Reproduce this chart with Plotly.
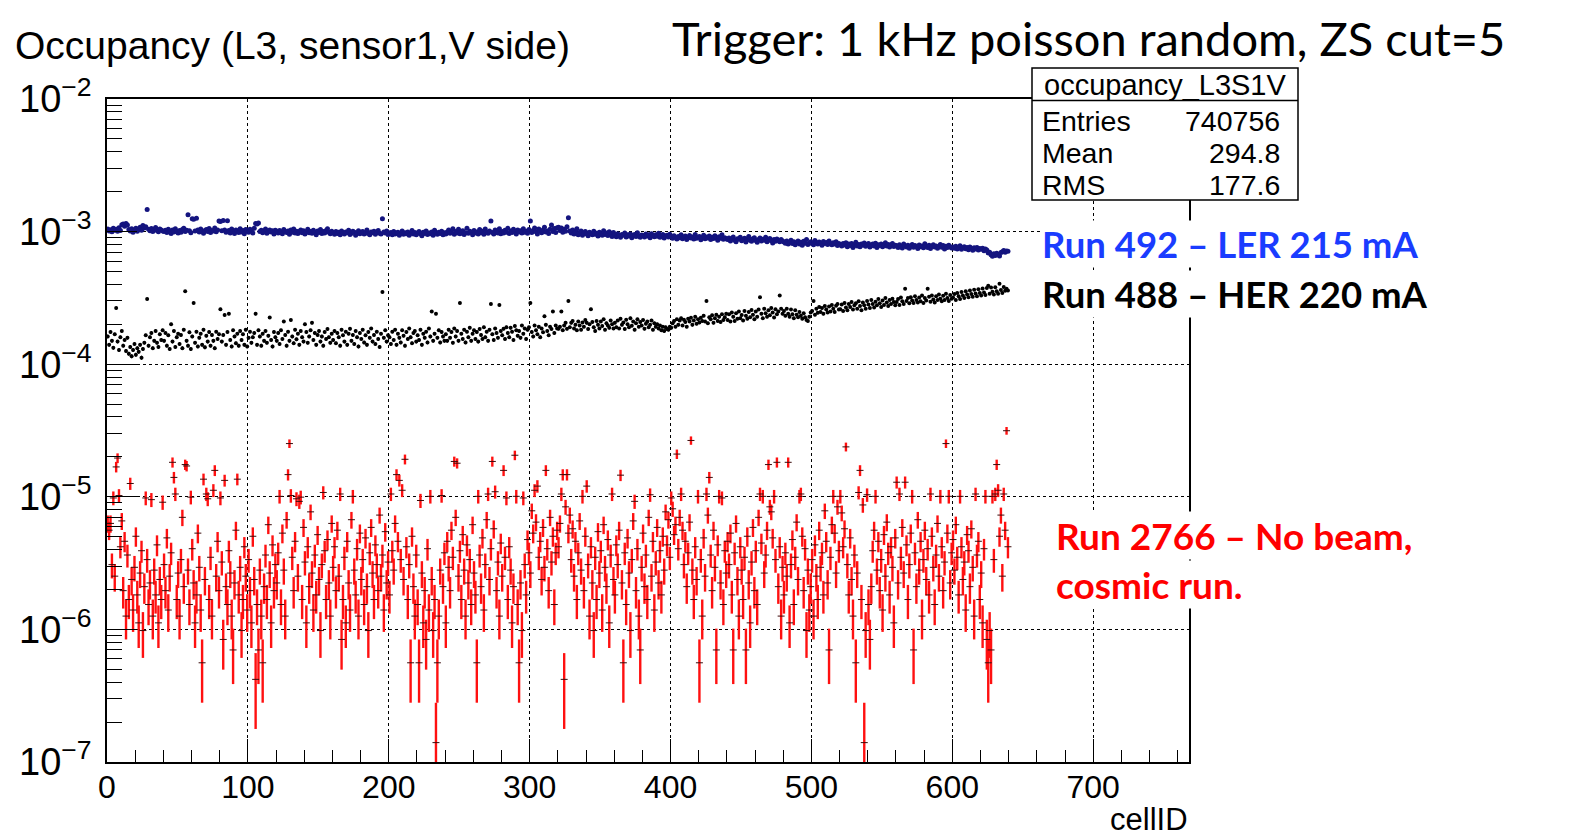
import numpy as np
import plotly.graph_objects as go

# ---------------------------------------------------------------
# occupancy per cellID (units of 1e-6), 640 cells
# ---------------------------------------------------------------
# Run 492 - LER 215 mA
ler_occ = [
    1045, 1010, 1032, 998, 1060, 1025, 1040, 1005, 1070, 1018, 1125, 1140, 1098, 1150, 1120, 1035, 1012, 1050, 990, 1028,
    1062, 1008, 1045, 1080, 1022, 1110, 1065, 1090, 1470, 1040, 1015, 1055, 1000, 1038, 1072, 1020, 996, 1048, 1030, 1010,
    1002, 1025, 985, 1040, 1012, 968, 1030, 995, 1050, 1008, 975, 1020, 990, 1035, 1060, 1000, 1022, 1340, 1015, 980,
    1250, 1240, 1010, 1260, 1030, 992, 1045, 1005, 972, 1018, 1038, 1000, 1055, 985, 1020, 1010, 1065, 998, 1028, 1200,
    1190, 1015, 1210, 1030, 990, 1205, 1020, 975, 1045, 1002, 968, 1028, 1010, 985, 1050, 995, 1020, 962, 1035, 1008,
    990, 1040, 1012, 975, 1060, 1150, 1140, 1160, 1000, 1025, 982, 1010, 1048, 970, 1000, 1030, 992, 1015, 958, 1022,
    1005, 978, 1020, 990, 962, 1035, 1000, 985, 1012, 955, 1028, 990, 1045, 975, 1008, 968, 1000, 1030, 982, 1015,
    960, 995, 1040, 980, 1002, 972, 1025, 990, 948, 1010, 985, 1035, 968, 1000, 978, 1018, 1050, 990, 962, 1005,
    980, 955, 1000, 968, 990, 945, 1012, 975, 960, 995, 982, 1025, 950, 970, 1005, 988, 940, 978, 1015, 962,
    990, 1000, 958, 975, 1030, 968, 945, 992, 980, 1008, 955, 985, 1020, 970, 960, 1250, 995, 975, 1010, 950,
    970, 985, 948, 1002, 960, 975, 990, 940, 968, 1010, 955, 980, 962, 995, 938, 970, 1018, 958, 985, 945,
    975, 1000, 960, 930, 988, 968, 1012, 950, 978, 962, 995, 940, 1025, 975, 955, 990, 968, 1005, 948, 980,
    960, 995, 1030, 970, 985, 1050, 955, 1000, 978, 1040, 965, 990, 1015, 950, 982, 1060, 970, 1005, 988, 945,
    1020, 975, 995, 960, 1035, 980, 1008, 955, 1045, 990, 970, 1012, 1200, 985, 960, 1030, 998, 975, 1050, 965,
    1000, 975, 1025, 990, 1060, 968, 1010, 985, 1040, 1002, 958, 1030, 995, 1015, 975, 1050, 990, 1008, 970, 1035,
    1200, 985, 1020, 1065, 998, 960, 1045, 1010, 980, 1030, 1080, 995, 1012, 968, 1040, 1120, 1000, 1055, 985, 1070,
    1080, 1020, 1065, 990, 1040, 1005, 1090, 1270, 1010, 975, 1030, 960, 995, 1050, 948, 985, 1012, 940, 975, 1000,
    958, 930, 990, 965, 945, 1008, 955, 972, 925, 990, 960, 940, 1015, 950, 975, 935, 998, 962, 920, 985,
    940, 915, 965, 930, 905, 952, 938, 975, 910, 945, 925, 960, 898, 935, 950, 918, 980, 928, 905, 942,
    935, 912, 958, 925, 945, 900, 962, 930, 915, 948, 922, 970, 908, 935, 950, 895, 928, 940, 912, 955,
    915, 890, 930, 905, 880, 920, 898, 945, 885, 910, 925, 872, 900, 935, 895, 912, 878, 950, 890, 905,
    920, 868, 898, 940, 882, 910, 895, 925, 870, 905, 888, 930, 900, 862, 915, 892, 945, 875, 900, 885,
    870, 895, 850, 880, 910, 862, 840, 885, 875, 905, 852, 868, 890, 835, 878, 920, 860, 845, 882, 900,
    858, 830, 870, 895, 848, 875, 862, 905, 840, 865, 888, 852, 820, 870, 845, 880, 858, 838, 872, 850,
    835, 818, 850, 805, 828, 862, 812, 840, 795, 825, 848, 808, 830, 790, 845, 818, 870, 800, 822, 838,
    812, 795, 858, 826, 805, 835, 818, 790, 842, 812, 828, 800, 850, 815, 795, 825, 808, 838, 785, 815,
    800, 778, 815, 792, 825, 770, 805, 785, 812, 760, 795, 830, 780, 800, 768, 808, 790, 822, 775, 798,
    812, 765, 790, 805, 780, 818, 760, 795, 785, 808, 770, 790, 825, 778, 800, 765, 795, 812, 772, 788,
    782, 760, 795, 770, 752, 805, 778, 765, 790, 748, 775, 800, 762, 785, 770, 745, 792, 768, 780, 755,
    810, 772, 760, 788, 745, 775, 795, 765, 780, 750, 770, 798, 762, 785, 740, 775, 760, 790, 768, 752,
    765, 748, 775, 740, 760, 782, 735, 755, 770, 742, 758, 730, 765, 748, 722, 755, 740, 760, 728, 745,
    735, 750, 718, 740, 725, 690, 700, 668, 652, 680, 660, 688, 672, 655, 695, 705, 720, 700, 715, 710,
]

# Run 488 - HER 220 mA
her_occ = [
    162, 140, 175, 150, 133, 168, 265, 148, 128, 160, 178, 138, 152, 126, 158, 120, 135, 115, 128, 142,
    118, 132, 124, 140, 112, 130, 145, 165, 310, 138, 160, 172, 132, 150, 178, 145, 135, 168, 152, 180,
    150, 172, 138, 165, 130, 200, 148, 178, 135, 160, 170, 142, 166, 132, 182, 355, 150, 138, 174, 130,
    162, 290, 145, 176, 136, 158, 170, 140, 182, 134, 164, 148, 175, 138, 166, 150, 132, 176, 155, 168,
    260, 148, 166, 235, 140, 175, 240, 152, 136, 180, 162, 144, 170, 138, 178, 152, 168, 140, 182, 136,
    158, 176, 145, 160, 172, 240, 140, 180, 162, 138, 170, 150, 178, 145, 164, 225, 152, 136, 175, 160,
    150, 172, 142, 180, 155, 210, 166, 138, 176, 150, 215, 162, 144, 182, 154, 170, 140, 178, 160, 148,
    200, 175, 145, 162, 180, 205, 152, 172, 140, 166, 178, 148, 162, 138, 175, 155, 184, 160, 145, 170,
    152, 178, 144, 172, 160, 138, 182, 165, 148, 176, 140, 170, 185, 150, 166, 142, 178, 160, 136, 172,
    155, 182, 146, 165, 140, 175, 158, 186, 148, 166, 142, 176, 155, 135, 170, 350, 158, 180, 148, 165,
    160, 142, 176, 152, 182, 140, 170, 158, 146, 180, 164, 138, 175, 155, 186, 160, 144, 172, 178, 148,
    165, 152, 182, 140, 170, 158, 176, 146, 186, 162, 250, 150, 170, 240, 158, 180, 146, 175, 162, 150,
    168, 150, 182, 158, 175, 145, 186, 162, 178, 150, 290, 170, 155, 182, 146, 176, 160, 188, 150, 170,
    180, 155, 175, 148, 184, 166, 155, 190, 160, 176, 150, 182, 285, 168, 152, 186, 172, 158, 280, 178,
    165, 185, 155, 190, 172, 160, 188, 176, 152, 194, 180, 164, 178, 158, 196, 170, 186, 155, 182, 190,
    290, 175, 162, 196, 180, 168, 192, 160, 186, 174, 230, 198, 178, 165, 192, 184, 250, 172, 196, 186,
    185, 192, 250, 180, 196, 205, 185, 300, 190, 205, 212, 186, 198, 180, 210, 196, 182, 206, 192, 215,
    205, 184, 200, 260, 208, 190, 178, 212, 198, 186, 210, 194, 218, 182, 204, 196, 188, 214, 200, 186,
    205, 190, 214, 186, 220, 198, 206, 184, 216, 200, 190, 222, 195, 210, 182, 204, 218, 192, 208, 196,
    215, 185, 202, 210, 190, 198, 214, 182, 204, 192, 200, 186, 196, 180, 192, 178, 190, 184, 182, 192,
    188, 204, 212, 192, 218, 198, 214, 222, 196, 216, 208, 192, 220, 210, 224, 198, 214, 228, 202, 218,
    206, 224, 212, 232, 210, 300, 204, 226, 218, 234, 205, 222, 236, 212, 228, 208, 238, 215, 226, 240,
    215, 238, 210, 245, 228, 212, 242, 220, 250, 222, 235, 214, 252, 232, 220, 248, 226, 256, 236, 218,
    250, 228, 258, 320, 240, 222, 262, 242, 228, 255, 234, 265, 245, 225, 260, 238, 250, 330, 262, 240,
    252, 232, 262, 240, 228, 258, 238, 222, 255, 236, 226, 248, 232, 220, 242, 226, 215, 212, 228, 245,
    252, 300, 236, 262, 244, 270, 248, 265, 240, 275, 258, 245, 272, 250, 280, 262, 248, 276, 285, 258,
    260, 282, 252, 290, 268, 255, 285, 270, 295, 258, 278, 288, 262, 298, 275, 255, 292, 278, 262, 300,
    282, 265, 305, 285, 268, 296, 278, 310, 288, 270, 302, 280, 315, 292, 275, 305, 285, 312, 295, 278,
    295, 310, 280, 318, 298, 285, 370, 300, 315, 288, 320, 302, 290, 325, 305, 292, 318, 298, 330, 290,
    315, 302, 370, 322, 296, 330, 308, 292, 325, 305, 335, 312, 298, 328, 305, 340, 315, 300, 332, 312,
    318, 338, 305, 345, 325, 310, 350, 330, 315, 355, 335, 320, 360, 338, 322, 365, 342, 325, 368, 345,
    330, 372, 348, 332, 375, 390, 340, 378, 352, 335, 380, 355, 340, 405, 362, 345, 382, 358, 370, 360,
]

# Run 2766 - no beam, cosmic run: hit counts per cell
cosmic_hits = [
    45, 40, 45, 22, 70, 18, 120, 140, 73, 30, 47, 14, 33, 9, 26, 12, 90, 17, 10, 21,
    36, 13, 8, 19, 28, 7, 15, 70, 24, 11, 16, 68, 9, 20, 13, 31, 8, 17, 12, 65,
    22, 14, 35, 10, 18, 27, 130, 100, 75, 12, 19, 9, 24, 50, 15, 125, 122, 20, 11, 71,
    29, 16, 8, 13, 38, 21, 10, 4, 97, 17, 75, 69, 12, 25, 9, 80, 113, 18, 33, 14,
    70, 23, 6, 95, 15, 11, 28, 19, 9, 5, 16, 40, 97, 13, 21, 7, 12, 30, 18, 10,
    24, 14, 8, 36, 17, 3, 11, 5, 20, 9, 4, 15, 26, 12, 44, 19, 8, 31, 14, 22,
    16, 27, 72, 11, 38, 20, 9, 48, 105, 180, 73, 25, 14, 33, 69, 18, 66, 71, 12, 42,
    23, 8, 30, 15, 55, 19, 10, 26, 13, 37, 17, 7, 22, 77, 28, 12, 34, 16, 9, 45,
    21, 30, 14, 40, 18, 75, 6, 12, 25, 8, 33, 16, 10, 48, 72, 20, 13, 29, 9, 38,
    17, 24, 11, 35, 15, 7, 27, 42, 19, 12, 31, 22, 14, 52, 18, 26, 10, 39, 16, 23,
    13, 75, 28, 20, 45, 105, 33, 95, 24, 80, 17, 137, 30, 12, 22, 4, 36, 15, 9, 26,
    11, 4, 67, 19, 8, 14, 6, 29, 10, 72, 17, 7, 12, 1, 4, 9, 20, 73, 15, 27,
    8, 33, 21, 14, 40, 25, 132, 50, 128, 18, 28, 12, 37, 20, 9, 31, 16, 24, 11, 44,
    19, 13, 4, 72, 26, 15, 35, 10, 22, 48, 75, 17, 29, 132, 41, 78, 14, 23, 9, 32,
    18, 113, 25, 70, 12, 30, 20, 8, 15, 147, 72, 11, 4, 16, 7, 70, 22, 13, 34, 27,
    19, 56, 38, 80, 46, 86, 25, 33, 17, 42, 21, 113, 29, 14, 50, 23, 36, 11, 27, 40,
    30, 45, 75, 105, 3, 60, 105, 38, 52, 24, 41, 18, 33, 12, 27, 47, 20, 72, 14, 36,
    86, 22, 9, 30, 16, 7, 25, 12, 39, 19, 28, 10, 44, 21, 15, 34, 8, 26, 75, 17,
    13, 31, 22, 40, 104, 16, 4, 27, 11, 35, 19, 7, 24, 47, 66, 14, 29, 9, 5, 21,
    38, 15, 26, 12, 50, 74, 18, 33, 10, 23, 42, 16, 28, 13, 36, 20, 55, 31, 48, 25,
    70, 58, 37, 44, 150, 29, 50, 75, 40, 22, 33, 15, 27, 46, 190, 20, 12, 30, 17, 72,
    4, 24, 9, 35, 18, 75, 52, 100, 26, 14, 40, 21, 5, 31, 72, 16, 70, 11, 28, 19,
    33, 22, 38, 13, 5, 27, 45, 17, 9, 30, 20, 12, 25, 5, 36, 16, 8, 23, 42, 14,
    28, 11, 50, 75, 32, 72, 19, 26, 40, 125, 60, 55, 35, 72, 24, 130, 15, 30, 9, 21,
    13, 27, 18, 130, 8, 22, 34, 11, 25, 46, 17, 72, 75, 36, 14, 29, 7, 20, 10, 15,
    24, 9, 31, 18, 12, 40, 21, 27, 13, 56, 33, 16, 5, 25, 44, 72, 38, 19, 60, 28,
    72, 54, 30, 41, 170, 22, 13, 35, 17, 9, 26, 4, 19, 77, 113, 12, 62, 1, 7, 74,
    11, 6, 15, 28, 40, 72, 20, 33, 14, 24, 10, 37, 18, 46, 27, 13, 30, 21, 8, 35,
    92, 16, 75, 25, 42, 19, 92, 31, 12, 22, 38, 72, 5, 27, 15, 48, 20, 33, 9, 24,
    40, 17, 29, 13, 75, 36, 21, 11, 26, 45, 18, 72, 30, 14, 23, 180, 38, 72, 16, 27,
    34, 20, 44, 25, 13, 72, 30, 17, 23, 10, 37, 28, 15, 41, 21, 9, 75, 26, 33, 12,
    19, 8, 29, 72, 6, 4, 7, 5, 72, 24, 75, 125, 80, 36, 52, 18, 75, 40, 225, 30,
]

hit_unit = 1.4e-7  # occupancy of a single hit
n_cells = len(ler_occ)
cell_id = np.arange(n_cells) + 0.5

ler = np.array(ler_occ) * 1e-6
her = np.array(her_occ) * 1e-6
cosmic = np.array(cosmic_hits) * hit_unit
ler_err = np.sqrt(ler * hit_unit)
her_err = np.sqrt(her * hit_unit)
cosmic_err = np.sqrt(np.array(cosmic_hits)) * hit_unit

# page offset (body margin) and plot frame, in window pixels
OFF = 8
W, H = 1571 - OFF, 840 - OFF
L, R, T, B = 107, 1189, 99, 762


def px(x):
    return (x - L) / (R - L)


def py(y):
    return (B - y) / (B - T)


fig = go.Figure()

fig.add_trace(go.Scatter(
    x=cell_id, y=cosmic, mode='markers',
    marker=dict(symbol='line-ew', size=5, color='#400000', line=dict(color='#3a0a0a', width=1)),
    error_y=dict(type='data', array=cosmic_err, color='#ff1010', thickness=2.4, width=0),
    showlegend=False
))
fig.add_trace(go.Scatter(
    x=cell_id, y=her, mode='markers',
    marker=dict(symbol='circle', size=4, color='black'),
    error_y=dict(type='data', array=her_err, color='black', thickness=1.2, width=0),
    showlegend=False
))
fig.add_trace(go.Scatter(
    x=cell_id, y=ler, mode='markers',
    marker=dict(symbol='circle', size=5, color='#14147f'),
    error_y=dict(type='data', array=ler_err, color='#14147f', thickness=1.2, width=0),
    showlegend=False
))

decades = [-7, -6, -5, -4, -3, -2]
minor_y = [k * 10.0 ** e for e in decades[:-1] for k in range(2, 10)]

fig.update_xaxes(
    range=[0, 768], tick0=0, dtick=100,
    ticks='inside', ticklen=23, tickwidth=1.2, tickcolor='black',
    showline=True, mirror=True, linecolor='black', linewidth=1.5,
    showgrid=True, gridcolor='black', griddash='dot', gridwidth=1,
    zeroline=False, ticklabelstandoff=-4,
    minor=dict(dtick=20, ticks='inside', ticklen=12, tickwidth=1, tickcolor='black', showgrid=False),
    tickfont=dict(family='Liberation Sans', size=32, color='black'),
)
fig.update_yaxes(
    type='log', range=[-7, -2],
    tickmode='array', tickvals=[10.0 ** e for e in decades],
    ticktext=['10<sup>\u2212%d</sup>' % (-e) for e in decades],
    ticks='inside', ticklen=30, tickwidth=1.2, tickcolor='black',
    showline=True, mirror=True, linecolor='black', linewidth=1.5,
    showgrid=True, gridcolor='black', griddash='dot', gridwidth=1,
    zeroline=False, ticklabelstandoff=6,
    minor=dict(tickmode='array', tickvals=minor_y, ticks='inside', ticklen=15, tickwidth=1,
               tickcolor='black', showgrid=False),
    tickfont=dict(family='Liberation Sans', size=38, color='black'),
)

root_font = 'Liberation Sans'
annotations = [
    dict(x=px(13), y=py(45), text='Occupancy (L3, sensor1,V side)', xanchor='left', yanchor='middle',
         font=dict(family=root_font, size=39, color='black')),
    dict(x=px(670), y=py(38), text='Trigger: 1 kHz poisson random, ZS cut=5', xanchor='left', yanchor='middle',
         font=dict(family='Lato', size=47, color='black')),
    dict(x=px(1040), y=py(244), text='<b>Run 492 \u2013 LER 215 mA</b>', xanchor='left', yanchor='middle',
         font=dict(family='Lato', size=36.5, color='#1a3cff'), bgcolor='white'),
    dict(x=px(1040), y=py(294), text='<b>Run 488 \u2013 HER 220 mA</b>', xanchor='left', yanchor='middle',
         font=dict(family='Lato', size=36.5, color='black'), bgcolor='white'),
    dict(x=px(1054), y=py(535), text='<b>Run 2766 \u2013 No beam,</b>', xanchor='left', yanchor='middle',
         font=dict(family='Lato', size=37, color='#ff0000'), bgcolor='white'),
    dict(x=px(1054), y=py(584), text='<b>cosmic run.</b>', xanchor='left', yanchor='middle',
         font=dict(family='Lato', size=37, color='#ff0000'), bgcolor='white'),
    dict(x=px(1190), y=py(819), text='cellID', xanchor='right', yanchor='middle',
         font=dict(family=root_font, size=31, color='black')),
    # stats box
    dict(x=px(1165), y=py(85), text='occupancy_L3S1V', xanchor='center', yanchor='middle',
         font=dict(family=root_font, size=29, color='black')),
]
stats = [('Entries', '740756', 121), ('Mean', '294.8', 153), ('RMS', '177.6', 185)]
for name, val, yy in stats:
    annotations.append(dict(x=px(1040), y=py(yy), text=name, xanchor='left', yanchor='middle',
                            font=dict(family=root_font, size=28.5, color='black')))
    annotations.append(dict(x=px(1282), y=py(yy), text=val, xanchor='right', yanchor='middle',
                            font=dict(family=root_font, size=28.5, color='black')))
for a in annotations:
    a.update(xref='paper', yref='paper', showarrow=False)

shapes = [
    dict(type='rect', xref='paper', yref='paper', x0=px(1032), x1=px(1298), y0=py(200), y1=py(68),
         fillcolor='white', line=dict(color='black', width=1.5), layer='above'),
    dict(type='line', xref='paper', yref='paper', x0=px(1032), x1=px(1298), y0=py(100.5), y1=py(100.5),
         line=dict(color='black', width=1.5), layer='above'),
]

fig.update_layout(
    width=W, height=H,
    margin=dict(l=L - OFF, r=1571 - R, t=T - OFF, b=840 - B),
    plot_bgcolor='white', paper_bgcolor='white',
    font=dict(family=root_font, color='black'),
    annotations=annotations, shapes=shapes,
    showlegend=False,
)

fig.write_html("out.html")
